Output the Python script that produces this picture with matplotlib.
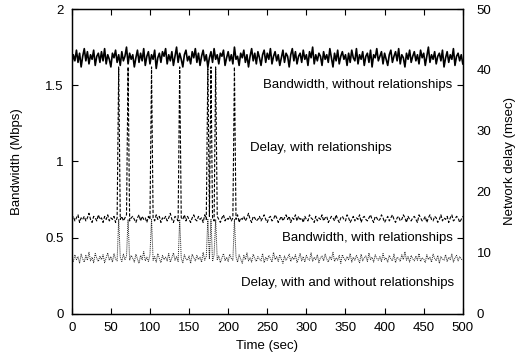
import numpy as np
import matplotlib
matplotlib.use('Agg')
import matplotlib.pyplot as plt

plt.rcParams['font.family'] = ['Liberation Sans', 'DejaVu Sans']
plt.rcParams['font.size'] = 9.5

# time axis, one sample every 2 seconds
t_sec = np.arange(0, 501, 2)

# bandwidth without relationships (Mbps, left axis)
bw_without = [
    1.63, 1.70, 1.66, 1.73, 1.65, 1.71, 1.62, 1.69, 1.74, 1.66, 1.72, 1.64, 1.70, 1.67, 1.73, 1.63, 1.69, 1.71, 1.65, 1.72,
    1.66, 1.74, 1.64, 1.70, 1.67, 1.62, 1.71, 1.68, 1.73, 1.65, 1.70, 1.63, 1.72, 1.66, 1.69, 1.75, 1.64, 1.71, 1.67, 1.70,
    1.62, 1.68, 1.73, 1.65, 1.71, 1.66, 1.74, 1.63, 1.69, 1.72, 1.64, 1.70, 1.67, 1.73, 1.61, 1.68, 1.71, 1.65, 1.72, 1.69,
    1.74, 1.64, 1.70, 1.66, 1.72, 1.63, 1.69, 1.75, 1.65, 1.71, 1.67, 1.62, 1.70, 1.73, 1.66, 1.69, 1.64, 1.72, 1.68, 1.74,
    1.65, 1.71, 1.63, 1.69, 1.73, 1.66, 1.70, 1.62, 1.68, 1.72, 1.65, 1.74, 1.67, 1.70, 1.64, 1.71, 1.69, 1.73, 1.63, 1.68,
    1.72, 1.66, 1.70, 1.64, 1.75, 1.67, 1.69, 1.63, 1.71, 1.68, 1.73, 1.65, 1.70, 1.62, 1.69, 1.74, 1.66, 1.71, 1.64, 1.72,
    1.68, 1.63, 1.70, 1.73, 1.65, 1.71, 1.67, 1.74, 1.64, 1.69, 1.72, 1.66, 1.70, 1.63, 1.68, 1.73, 1.65, 1.71, 1.69, 1.62,
    1.70, 1.74, 1.66, 1.72, 1.64, 1.69, 1.71, 1.65, 1.73, 1.67, 1.70, 1.63, 1.72, 1.68, 1.75, 1.64, 1.70, 1.66, 1.71, 1.69,
    1.63, 1.72, 1.67, 1.70, 1.65, 1.74, 1.68, 1.62, 1.71, 1.66, 1.73, 1.64, 1.69, 1.72, 1.67, 1.70, 1.63, 1.71, 1.65, 1.73,
    1.68, 1.66, 1.74, 1.64, 1.70, 1.67, 1.72, 1.63, 1.69, 1.71, 1.65, 1.73, 1.62, 1.70, 1.68, 1.74, 1.66, 1.69, 1.72, 1.64,
    1.71, 1.67, 1.63, 1.70, 1.73, 1.65, 1.69, 1.72, 1.66, 1.74, 1.64, 1.70, 1.68, 1.62, 1.71, 1.67, 1.73, 1.65, 1.69, 1.72,
    1.66, 1.70, 1.64, 1.73, 1.68, 1.71, 1.63, 1.69, 1.75, 1.65, 1.70, 1.67, 1.72, 1.64, 1.69, 1.71, 1.66, 1.73, 1.62, 1.68,
    1.72, 1.65, 1.70, 1.67, 1.74, 1.63, 1.69, 1.71, 1.66, 1.70, 1.64,
]

# bandwidth with relationships (Mbps, left axis), with the delay spikes
bw_with = [
    0.62, 0.64, 0.61, 0.63, 0.65, 0.60, 0.63, 0.62, 0.64, 0.61, 0.63, 0.66, 0.62, 0.60, 0.64, 0.63, 0.61, 0.65, 0.62, 0.63,
    0.60, 0.64, 0.62, 0.65, 0.61, 0.63, 0.62, 0.64, 0.60, 0.63, 1.62, 0.62, 0.64, 0.61, 0.63, 0.65, 1.62, 0.61, 0.63, 0.64,
    0.62, 0.60, 0.63, 0.65, 0.61, 0.64, 0.62, 0.63, 0.60, 0.64, 0.62, 1.62, 0.63, 0.61, 0.65, 0.62, 0.64, 0.60, 0.63, 0.62,
    0.64, 0.61, 0.63, 0.66, 0.62, 0.60, 0.64, 0.63, 0.61, 1.62, 0.63, 0.62, 0.65, 0.61, 0.64, 0.62, 0.60, 0.63, 0.65, 0.62,
    0.61, 0.64, 0.62, 0.63, 0.60, 0.65, 0.62, 1.62, 0.64, 1.62, 0.63, 0.61, 1.62, 0.64, 0.62, 0.60, 0.63, 0.65, 0.61, 0.63,
    0.62, 0.64, 0.61, 0.63, 1.62, 0.62, 0.65, 0.60, 0.63, 0.62, 0.64, 0.61, 0.63, 0.66, 0.62, 0.60, 0.64, 0.63, 0.61, 0.62,
    0.64, 0.61, 0.63, 0.65, 0.62, 0.60, 0.63, 0.64, 0.61, 0.62, 0.65, 0.63, 0.60, 0.62, 0.64, 0.61, 0.63, 0.65, 0.62, 0.64,
    0.60, 0.63, 0.62, 0.65, 0.61, 0.64, 0.62, 0.63, 0.60, 0.64, 0.62, 0.61, 0.65, 0.63, 0.62, 0.60, 0.64, 0.61, 0.63, 0.62,
    0.65, 0.61, 0.63, 0.64, 0.60, 0.62, 0.64, 0.63, 0.61, 0.65, 0.62, 0.60, 0.63, 0.64, 0.62, 0.61, 0.65, 0.63, 0.60, 0.62,
    0.64, 0.61, 0.63, 0.62, 0.65, 0.60, 0.63, 0.64, 0.62, 0.61, 0.63, 0.65, 0.62, 0.60, 0.64, 0.63, 0.61, 0.62, 0.65, 0.63,
    0.60, 0.62, 0.64, 0.61, 0.63, 0.65, 0.62, 0.60, 0.63, 0.64, 0.61, 0.62, 0.65, 0.63, 0.60, 0.64, 0.62, 0.61, 0.63, 0.64,
    0.62, 0.60, 0.65, 0.63, 0.61, 0.62, 0.64, 0.60, 0.63, 0.65, 0.62, 0.61, 0.64, 0.63, 0.60, 0.62, 0.65, 0.61, 0.63, 0.62,
    0.64, 0.60, 0.63, 0.65, 0.61, 0.62, 0.64, 0.63, 0.60, 0.62, 0.64,
]

# network delay (msec, right axis)
delay_msec = [
    9.2, 8.6, 9.7, 8.9, 9.4, 8.3, 9.8, 9.0, 8.5, 9.6, 8.8, 10.1, 8.7, 9.3, 8.4, 9.9, 9.1, 8.6, 9.5, 8.9,
    9.7, 8.4, 9.2, 10.0, 8.8, 9.4, 8.5, 9.9, 9.0, 8.7, 15.5, 9.3, 8.6, 9.8, 8.9, 9.5, 15.5, 8.8, 9.6, 9.1,
    8.5, 9.8, 9.0, 8.3, 9.6, 8.9, 10.2, 8.7, 9.3, 8.6, 9.7, 15.5, 8.8, 9.4, 8.5, 9.9, 9.1, 8.4, 9.6, 8.9,
    9.3, 8.7, 9.9, 8.5, 9.2, 10.0, 8.8, 9.4, 8.6, 15.5, 9.1, 8.4, 9.7, 9.0, 8.8, 9.5, 8.3, 9.8, 9.2, 8.7,
    9.6, 8.9, 9.3, 8.5, 10.1, 8.8, 9.4, 15.5, 9.0, 15.5, 8.6, 9.7, 15.5, 8.9, 9.5, 8.4, 9.2, 9.9, 8.7, 9.3,
    8.6, 9.8, 9.1, 8.8, 15.5, 9.4, 8.5, 9.7, 9.0, 8.3, 9.6, 8.9, 10.0, 8.7, 9.2, 8.5, 9.8, 9.1, 8.6, 9.4,
    9.0, 8.7, 9.9, 8.4, 9.3, 8.8, 9.6, 9.1, 8.5, 10.1, 8.9, 9.4, 8.6, 9.7, 9.0, 8.3, 9.5, 8.8, 9.2, 9.8,
    8.6, 9.3, 8.9, 9.7, 8.4, 9.1, 9.9, 8.7, 9.4, 8.5, 9.6, 9.0, 8.8, 10.0, 8.6, 9.3, 8.9, 9.7, 8.4, 9.2,
    9.5, 8.7, 9.8, 9.0, 8.5, 9.4, 8.9, 10.1, 8.6, 9.2, 8.8, 9.6, 8.3, 9.7, 9.1, 8.7, 9.4, 8.9, 9.9, 8.5,
    9.3, 8.8, 9.6, 9.0, 8.4, 9.8, 8.7, 9.2, 9.5, 8.6, 10.0, 8.9, 9.3, 8.5, 9.7, 9.1, 8.8, 9.4, 8.6, 9.9,
    8.9, 9.2, 8.5, 9.6, 9.0, 8.7, 9.8, 8.4, 9.3, 9.1, 8.6, 9.7, 8.9, 10.2, 8.8, 9.4, 8.5, 9.6, 9.0, 8.7,
    9.5, 8.8, 9.9, 8.6, 9.2, 9.0, 8.4, 9.7, 8.9, 9.3, 8.5, 9.8, 9.1, 8.7, 9.6, 8.3, 9.4, 9.0, 8.8, 9.7,
    8.6, 9.3, 8.9, 9.8, 8.5, 9.2, 9.6, 8.7, 9.4, 9.0, 8.8,
]

fig, ax = plt.subplots(figsize=(5.2, 3.6), dpi=100)
fig.subplots_adjust(left=0.138, right=0.890, bottom=0.128, top=0.975)

ax.plot(t_sec, bw_without, color='black', lw=1.2)
ax.plot(t_sec, bw_with, color='black', lw=0.8, dashes=(3, 1.5))

ax2 = ax.twinx()
ax2.plot(t_sec, delay_msec, color='#222222', lw=0.7, dashes=(1, 1))

ax.set_xlim(0, 500)
ax.set_ylim(0, 2)
ax.set_xticks(np.arange(0, 501, 50))
ax.set_yticks([0, 0.5, 1, 1.5, 2])
ax.set_yticklabels(['0', '0.5', '1', '1.5', '2'])
ax.tick_params(direction='in', length=4, width=0.8, top=True, right=True, pad=6)

ax2.set_ylim(0, 50)
ax2.set_yticks(np.arange(0, 51, 10))
ax2.tick_params(length=0, pad=10)

ax.set_xlabel('Time (sec)', labelpad=4)
ax.set_ylabel('Bandwidth (Mbps)', labelpad=16)
ax2.set_ylabel('Network delay (msec)', labelpad=9)

for a in (ax, ax2):
    for s in a.spines.values():
        s.set_linewidth(0.9)

ax.text(486, 1.50, 'Bandwidth, without relationships', ha='right', va='center')
ax.text(318, 1.09, 'Delay, with relationships', ha='center', va='center')
ax.text(487, 0.50, 'Bandwidth, with relationships', ha='right', va='center')
ax.text(489, 0.20, 'Delay, with and without relationships', ha='right', va='center')

plt.savefig('out.png', dpi=100)
